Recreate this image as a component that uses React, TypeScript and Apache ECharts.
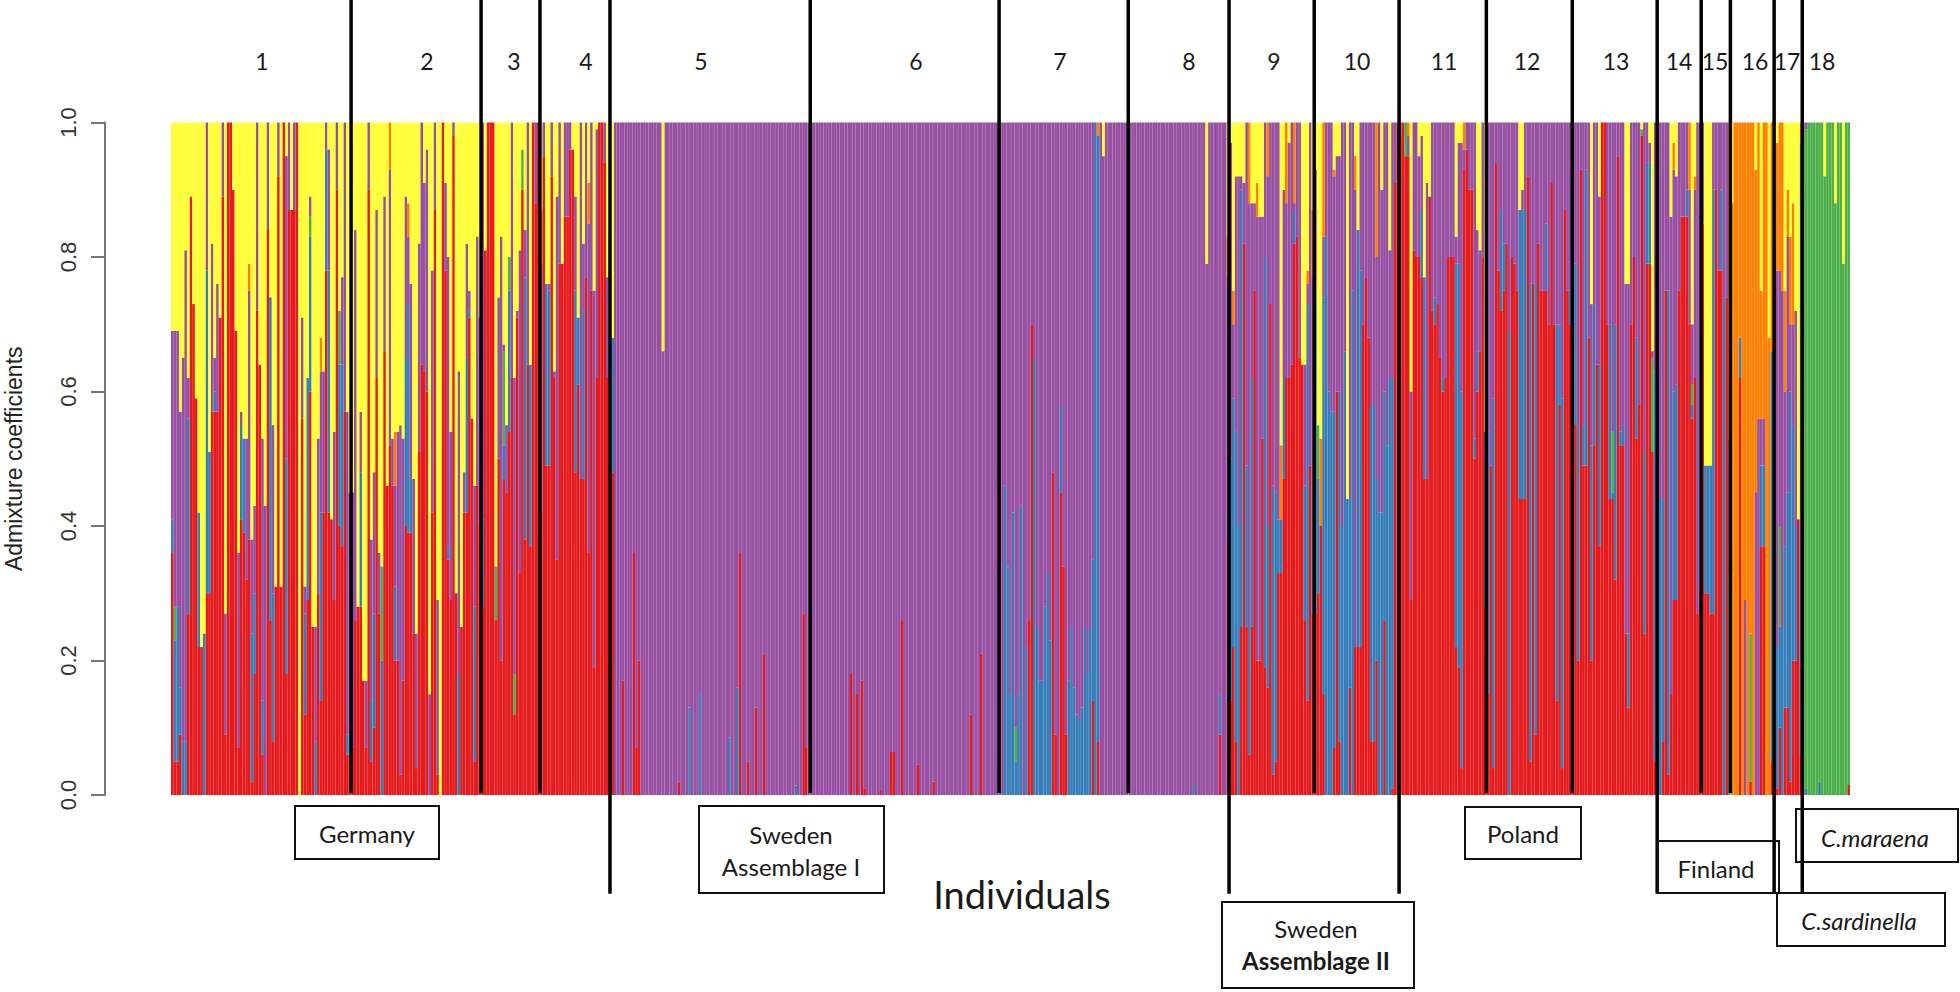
import React, { useEffect, useRef } from "react";
import * as echarts from "echarts";

// Each row is one individual: [red top, blue top, purple top, orange top?, green thickness?] in percent.
// Whatever is left above the highest top is yellow.
const P = [0, 0, 100];
const G = [0, 0, 100, 100, 100];

const pop1 = [
  [36,41,69],[5,23,69,0,5],[5,28,69],[9,16,57],[0,8,65],[0,8,81],[27,56,62],[89,89,89],[73,73,73],[59,59,59],
  [22,42,42],[22,22,22],[0,24,24],[30,78,100],[30,51,51],[57,57,82],[57,60,65],[57,57,76],[71,71,71],[89,89,100],
  [9,9,27],[100,100,100],[100,100,100],[90,90,90],[69,69,69],[7,7,36],[41,55,57],[39,53,53],[32,32,53],[38,38,75,79],
  [2,24,38],[18,30,43],[72,72,100],[64,64,64],[6,14,53],[0,0,43],[84,84,100],[26,74,74],[8,30,55],[31,31,31],
  [92,92,100],[31,31,31],[100,100,100],[18,50,95],[87,87,100],[87,87,87],[87,87,100],[100,100,100],[0,0,0],[56,56,71],
  [12,27,31],[29,62,62],[60,83,89,0,3],[25,25,25],[0,8,25],[30,30,53],[14,42,63,68],[42,42,63],[78,96,100],[42,78,96],
  [41,41,41],[29,29,54],[90,90,100],[40,64,64,0,8],[37,64,77],[57,57,100],[6,9,57],[6,9,45],
];
const pop2 = [
  [7,7,45],[26,26,84],[28,28,28],[28,48,57],[17,17,17],[7,7,17],[90,90,100],[5,14,38],[10,27,48],[62,62,87],
  [27,27,36],[0,20,34,0,14],[66,66,89],[46,46,46],[52,52,93,100],[46,46,53],[20,31,46,54],[20,20,54],[3,3,55],[17,17,53],
  [40,65,89],[39,73,83,88],[39,47,76],[24,24,47],[4,4,24],[51,51,82],[64,64,100],[63,63,91],[60,60,96],[0,0,15],
  [42,42,78],[87,87,100],[3,3,29],[0,0,0],[100,100,100],[78,78,91],[35,37,80],[29,29,54],[98,98,100],[30,30,30],
  [0,18,63],[25,25,25],[42,42,48],[42,65,82],[71,72,75],[56,56,56],[5,28,46],[46,46,83],[40,40,71],
];
const pop3 = [
  [28,41,100],[81,81,81],[100,100,100],[100,100,100],[100,100,100],[26,26,34,0,8],[50,50,74],[20,20,83],[47,52,67,0,14],[45,45,55],
  [54,75,80,0,5],[62,62,100],[12,12,62,0,6],[71,71,72],[33,33,81],[90,90,96,0,6],[38,77,84],[64,64,100],[37,64,64],[100,100,100],
  [88,88,100],[100,100,100],
];
const pop4 = [
  [42,42,79,87],[95,95,100],[49,76,76],[49,75,76],[92,92,100],[62,62,63],[35,35,89],[79,79,100],[79,79,79],[86,86,100],
  [86,86,100],[96,96,100],[96,96,96],[48,75,89],[61,71,71],[47,47,100],[47,72,82],[77,77,100],[36,36,85,91],[75,75,100],
  [19,19,75],[62,62,99],[100,100,100],[100,100,100],[94,94,100],[62,62,77],
];
const pop5 = [
  [0,0,83],[48,68,68],P,P,P,[17,17,100],P,P,P,[36,36,100],
  [7,7,100],[20,20,100],P,P,P,P,P,P,P,P,
  [0,0,66],P,P,P,P,P,[2,2,100],P,P,P,
  [0,13,100],P,P,P,[0,15,100],P,P,P,P,P,
  P,P,P,P,P,[0,8.5,100],P,P,[0,16,100],[36,36,100],
  P,P,[5,5,100],P,P,[13,13,100],P,P,[21,21,100],P,
  P,P,P,P,P,P,P,P,P,P,
  [0,1.4,100],P,P,[27,27,100],[7,7,100],
];
const pop6 = [
  P,P,P,P,P,P,P,P,P,P,
  P,P,P,P,P,P,[18,18,100],P,[15,15,100],P,
  [17,17,100],[1,1,100],P,P,P,P,P,[0.6,0.6,100],P,P,
  P,[6.4,6.4,100],[6.4,6.4,100],P,P,[26,26,100],P,P,P,P,
  P,[4.5,4.5,100],P,P,P,P,P,[2,2,100],P,P,
  P,P,P,P,P,P,P,P,P,P,
  P,[12,12,100],P,P,P,[21,21,100],P,P,P,P,
  P,
];
const pop7 = [
  P,[0,3,100],P,[0,46,100],[0,34,100],[0,15,100],[0,42,100],[0,5,100,0,5],[0,15,100],[0,43,100],
  P,[0,22,100],[26,26,100],[70,70,100],[0,65,100],[0,25,100],[0,17,100],[0,17,100],[0,28,100],[0,33,100],
  [0,23,100],[48,48,100],[9,9,100],P,[45,58,100],[34,34,100],[9,9,100],[0,17,100],[0,25,100],[0,16,100],
  [0,12,100],[0,11,100],[0,13,100],[0,25,100],[0,18,100],[0,25,100],[14,35,100],[0,100,100],[8,98,98,100],P,
  [0,0,95],P,P,P,P,P,P,P,P,
];
const pop8 = [
  P,P,P,P,P,P,P,P,P,P,
  P,P,P,P,P,P,P,P,P,P,
  P,P,P,P,P,[0,1.5,100],P,P,P,P,
  [0,0,79],P,P,P,P,[9,15,100],P,P,
];
const pop9 = [
  [38,41,77,83],[14,50,97],[22,59,70,75],[8,54,92],[0,40,92],[25,90,92],[82,82,91],[25,49,100],[6,25,88,100],[25,62,88],
  [75,75,88],[20,20,86,91],[20,20,86],[53,53,86],[19,80,100],[16,40,92,100],[73,73,100],[3,46,100],[5,45,100],[33,41,100],
  [33,41,41,52],[47,62,90],[62,62,88,100],[62,62,97],[64,64,100],[82,87,88,100],[83,83,100],[65,65,100],[64,64,64],[26,46,64],
  [14,73,76,78],[49,49,100],
];
const pop10 = [
  [27,44,77,87],[27,75,93],[30,47,55,0,8],[40,40,40,53],[15,74,83,100],[0,83,100],[0,60,100],[0,57,100],[7,57,92,93],[60,60,95],
  [8,60,95],[0,40,100],[0,66,100],[0,44,44],[16,44,100],[0,75,100],[22,22,90,95],[22,84,84],[22,78,100],[70,70,100],
  [77,77,100],[68,68,100],[8,58,100],[8,58,100],[20,47,80,100],[0,42,100],[0,42,90],[26,60,100],[0,52,100],[0,62,81],
  [1,62,100],[91,91,100],
];
const pop11 = [
  [100,100,100],[98,98,100],[100,100,100],[95,95,100,0,5],[95,95,98,100],[29,29,60],[81,81,100],[80,80,100],[80,80,95],[77,87,98],
  [47,77,77],[47,47,91],[89,89,89],[72,72,100],[70,74,100],[73,73,100],[65,65,100],[60,62,100],[62,62,100],[80,80,100],
  [80,80,100],[80,80,100],[22,79,83],[19,79,97],[4,60,97],[93,93,96,100],[96,96,100],[90,90,100],[90,90,100],[50,53,100],
  [60,66,84],[66,66,81],[80,80,100],
];
const pop12 = [
  [28,54,54],[15,54,100],[49,49,100],[4,59,100],[94,94,100],[78,78,100],[72,87,100],[75,82,100],[82,82,100],[0,69,100],
  [80,80,100],[79,79,100],[75,75,100],[44,87,87],[44,87,90],[44,87,100],[92,92,100],[5,76,100],[76,76,100],[9,76,100],
  [82,82,100],[75,75,100],[75,75,100],[75,85,100],[70,70,100],[91,91,100],[70,70,100],[14,70,100],[58,70,100],[4,59,100],
  [87,87,100],[75,75,100],
];
const pop13 = [
  [70,75,100],[55,55,100],[55,79,100],[20,55,100],[93,93,100],[49,55,100],[49,93,100],[68,68,100],[20,52,73],[52,73,100],
  [64,64,100],[37,64,89],[100,100,100],[100,100,100],[70,70,100],[44,70,100],[44,45,100,0,9],[32,70,100],[95,95,100],[52,54,100],
  [52,55,100],[24,24,76],[13,24,76],[70,70,100],[80,80,100],[53,68,100],[58,58,100],[98,98,99,0,1],[24,51,100],[79,94,100],
  [79,94,97],[51,51,66,0,14],
];
const pop14 = [
  [5,63,100],[2,44,79],[0,44,100],[8,44,100],[75,75,100],[3,75,100],[15,15,86],[29,60,93,97],[29,61,92],[75,75,100],
  [86,86,100],[86,86,100],[86,90,100],[70,70,90,100],[56,58,70,0,3],[62,62,90,92],[27,27,100],
];
const pop15 = [
  [31,69,100],[85,85,100],[30,49,49],[30,49,49],[27,49,49],[27,90,100],[90,90,100],[78,78,100],[78,90,100],[0,74,100],
  [74,74,100],
];
const pop16 = [
  [0,0,53,100,33],[0,0,0,88],[0,0,0,100],[0,0,0,100],[62,68,68,100],[0,0,0,100],[0,0,29,100],[0,0,0,100],[2,2,24,100,22],[0,0,0,100],
  [0,0,45,93],[0,0,56,100],[37,49,56,75],[37,49,56,100],[0,0,0,100],[0,0,0,68],[5,66,66,100],
];
const pop17 = [
  [8,21,82],[1,22,78,97],[10,25,78,100,15],[0,25,75,100],[13,37,60,75],[13,45,83,90],[2,60,70,83],[20,55,70,88],[20,40,72,72],[41,41,41,41],
  [6,97,97,100],
];
const pop18 = [
  G,[0,1,100,100,98],G,G,G,G,[0,2,100,100,98],G,[0,0,92,92,92],G,
  G,G,[0,0,88,88,88],G,G,[0,0,79,79,79],G,[1.5,1.5,100,100,98.5],
];

const populations = [pop1,pop2,pop3,pop4,pop5,pop6,pop7,pop8,pop9,pop10,pop11,pop12,pop13,pop14,pop15,pop16,pop17,pop18];

const seriesNames = ["Cluster 1","Cluster 2","Cluster 3","Cluster 4","Cluster 5","Cluster 6"];
const seriesColors = ["#E41A1C","#377EB8","#4DAF4A","#964FA1","#FF7F00","#FFFF33"];

// Population boundaries, in individuals along the x axis, and how far each line reaches (axis units).
const dividerCols = [67.9,116.9,139.1,165.5,241,312.2,360.9,398.9,431,463,495.9,528.3,560.3,576.9,587.9,604.4,615];
const dividerTop = 1.185;
const dividerBottoms = [0.003,0.003,0.003,-0.147,0.003,0.003,0.003,-0.147,0.003,-0.147,0.003,0.003,-0.147,0.003,0.003,-0.147,-0.147];

const yTicks = [0, 0.2, 0.4, 0.6, 0.8, 1];

const popNumbers = ["1","2","3","4","5","6","7","8","9","10","11","12","13","14","15","16","17","18"];
const popNumberX = [262,427,514,586,701,916,1060,1189,1274,1357,1444,1527,1616,1679,1715,1755,1787,1822];

const uiFont = "Lato";

export default function App() {
  const ref = useRef<HTMLDivElement>(null);
  useEffect(() => {
    const chart = echarts.init(ref.current!, undefined, { renderer: "svg" });
    const rows = populations.flat();
    const N = rows.length;
    const cols = rows.map((row) => {
      const r = row[0];
      const b = row[1] - row[0];
      const g = row[4] || 0;
      const p = Math.max(0, row[2] - row[1] - g);
      const oTop = row[3] || row[2];
      const o = Math.max(0, oTop - row[2]);
      const y = Math.max(0, 100 - oTop);
      return [r, b, g, p, o, y].map((v) => v / 100);
    });
    const bars = seriesNames.map((name, i) => ({
      name,
      type: "bar",
      stack: "all",
      barWidth: "100%",
      barCategoryGap: 0,
      silent: true,
      xAxisIndex: 0,
      yAxisIndex: 0,
      data: cols.map((c) => (c[i] > 0 ? c[i] : null)),
      itemStyle: { color: seriesColors[i], borderColor: seriesColors[i], borderWidth: 1.4 },
    }));

    const box = (x: number, y: number, w: number, h: number) => ({
      type: "rect",
      z: 50,
      shape: { x, y, width: w, height: h },
      style: { fill: "none", stroke: "#111", lineWidth: 2 },
    });
    const label = (text: string, x: number, y: number, extra: any = {}) => ({
      type: "text",
      z: 51,
      x,
      y,
      style: {
        text,
        fill: "#1a1a1a",
        fontFamily: uiFont,
        fontSize: 24,
        align: "center",
        verticalAlign: "middle",
        ...extra,
      },
    });

    chart.setOption({
      animation: false,
      backgroundColor: "#fff",
      grid: { left: 171, top: 122.5, width: 1679, height: 672.5, containLabel: false, outerBoundsMode: "none" },
      xAxis: [
        { type: "category", data: rows.map((_, i) => String(i + 1)), show: false, boundaryGap: true },
        { type: "value", min: 0, max: N, show: false },
      ],
      yAxis: {
        type: "value",
        min: 0,
        max: 1,
        interval: 0.2,
        offset: 66,
        position: "left",
        splitLine: { show: false },
        axisLine: { show: true, onZero: false, lineStyle: { color: "#777", width: 2 } },
        axisTick: { show: true, length: 14, lineStyle: { color: "#777", width: 2 } },
        axisLabel: {
          rotate: 90,
          margin: 26,
          fontFamily: "Liberation Sans",
          fontSize: 22,
          color: "#333",
          formatter: (v: number) => (yTicks.includes(v) ? v.toFixed(1) : ""),
        },
        name: "Admixture coefficients",
        nameLocation: "middle",
        nameGap: 80,
        nameRotate: 90,
        nameTextStyle: { fontFamily: "Liberation Sans", fontSize: 23, color: "#222" },
      },
      series: [
        ...bars,
        {
          name: "Population boundaries",
          type: "custom",
          xAxisIndex: 1,
          yAxisIndex: 0,
          silent: true,
          z: 10,
          clip: false,
          encode: { x: 0, y: [1, 2] },
          data: dividerCols.map((c, i) => [c, dividerTop, dividerBottoms[i]]),
          renderItem: (_: any, api: any) => {
            const a = api.coord([api.value(0), api.value(1)]);
            const b = api.coord([api.value(0), api.value(2)]);
            return {
              type: "line",
              shape: { x1: a[0], y1: a[1], x2: b[0], y2: b[1] },
              style: { stroke: "#000", lineWidth: 3.5 },
            };
          },
        },
      ],
      graphic: [
        ...popNumbers.map((t, i) => label(t, popNumberX[i], 61, { fontSize: 23 })),
        box(295, 806, 144, 53),
        label("Germany", 367, 833),
        box(699, 806, 185, 87),
        label("Sweden", 791, 834),
        label("Assemblage I", 791, 866),
        box(1465, 807, 116, 52),
        label("Poland", 1523, 833),
        box(1658, 841, 121, 52),
        label("Finland", 1716, 868),
        box(1796, 809, 162, 53),
        label("C.maraena", 1875, 837, { fontStyle: "italic" }),
        box(1777, 893, 168, 53),
        label("C.sardinella", 1859, 920, { fontStyle: "italic" }),
        box(1222, 902, 192, 86),
        label("Sweden", 1316, 928),
        label("Assemblage II", 1316, 960, { fontWeight: "bold" }),
        label("Individuals", 1022, 894, { fontSize: 38 }),
      ],
    });
    return () => chart.dispose();
  }, []);
  return (
    <div
      ref={ref}
      style={{ position: "absolute", left: 0, top: 0, width: 1960, height: 992 }}
    />
  );
}
